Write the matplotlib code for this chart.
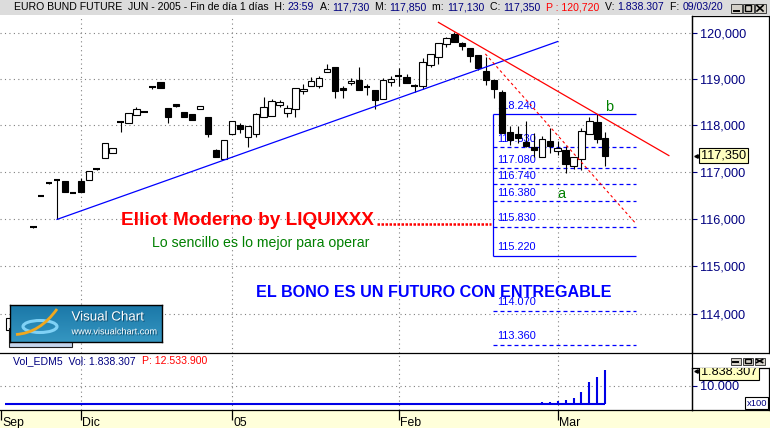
import numpy as np
import matplotlib
matplotlib.use("Agg")
import matplotlib.pyplot as plt
import matplotlib.transforms as mtransforms
import matplotlib.patheffects as pe
from matplotlib.patches import Rectangle, Ellipse, PathPatch
from matplotlib.path import Path
from matplotlib.lines import Line2D
from matplotlib.ticker import NullLocator
from matplotlib.colors import LinearSegmentedColormap

plt.rcParams['font.family'] = ['Liberation Sans', 'DejaVu Sans']

# --- data: EURO BUND FUTURE JUN-2005, daily bars (bar index, 0 = first Nov session)
bar_idx = [-3] + list(range(73))
opens = [113.68, 115.82, 116.49, 116.76, 116.82, 116.81, 116.55, 116.81, 116.82, 117.06,
         117.29, 117.40, 118.07, 118.05, 118.22, 118.29, 118.82, 118.94, 118.37, 118.46,
         118.28, 118.24, 118.35, 118.18, 117.47, 117.27, 117.82, 118.00, 117.74, 117.82,
         118.18, 118.20, 118.43, 118.26, 118.35, 118.74, 118.85, 118.85, 119.15, 119.27,
         118.80, 118.91, 118.98, 118.82, 118.76, 118.56, 118.93, 119.06, 119.04, 118.85,
         118.84, 119.30, 119.48, 119.76, 119.98, 119.78, 119.68, 119.53, 119.17, 118.99,
         118.73, 117.85, 117.81, 117.65, 117.53, 117.33, 117.66, 117.45, 117.47, 117.13,
         117.27, 117.81, 118.07, 117.73]
highs = [113.93, 115.83, 116.50, 116.77, 116.83, 116.81, 116.56, 116.87, 117.01, 117.07,
         117.61, 117.51, 118.08, 118.26, 118.39, 118.30, 118.82, 118.94, 118.37, 118.46,
         118.28, 118.24, 118.41, 118.18, 117.50, 117.68, 118.09, 118.04, 117.98, 118.27,
         118.62, 118.56, 118.55, 118.43, 118.80, 118.89, 119.04, 119.07, 119.33, 119.27,
         118.84, 119.02, 119.27, 118.90, 118.76, 119.02, 119.06, 119.24, 119.11, 118.89,
         119.46, 119.54, 119.78, 119.93, 120.03, 119.82, 119.68, 119.53, 119.49, 118.99,
         118.77, 117.99, 117.99, 118.10, 117.83, 117.77, 117.95, 117.67, 117.56, 117.32,
         117.95, 118.19, 118.24, 117.85]
lows = [113.66, 115.81, 116.48, 116.75, 115.99, 116.58, 116.54, 116.58, 116.82, 117.05,
        117.29, 117.40, 117.86, 118.05, 118.22, 118.28, 118.79, 118.80, 118.04, 118.39,
        118.17, 118.12, 118.35, 117.74, 117.33, 117.27, 117.82, 117.84, 117.53, 117.74,
        118.18, 118.20, 118.39, 118.19, 118.19, 118.68, 118.85, 118.81, 119.15, 118.60,
        118.58, 118.87, 118.77, 118.66, 118.35, 118.56, 118.84, 118.85, 118.91, 118.71,
        118.78, 119.27, 119.34, 119.71, 119.81, 119.64, 119.38, 119.20, 118.88, 118.59,
        117.83, 117.58, 117.61, 117.53, 117.33, 117.33, 117.40, 117.37, 116.97, 117.06,
        117.04, 117.81, 117.61, 117.13]
closes = [113.91, 115.82, 116.49, 116.76, 116.81, 116.58, 116.55, 116.58, 117.01, 117.06,
          117.61, 117.51, 118.07, 118.26, 118.35, 118.29, 118.82, 118.80, 118.17, 118.41,
          118.17, 118.12, 118.41, 117.82, 117.33, 117.68, 118.09, 117.92, 117.98, 118.24,
          118.39, 118.53, 118.50, 118.37, 118.80, 118.79, 118.95, 119.02, 119.22, 118.75,
          118.77, 118.96, 118.77, 118.82, 118.54, 118.98, 119.01, 119.06, 118.91, 118.85,
          119.38, 119.54, 119.78, 119.89, 119.81, 119.72, 119.51, 119.25, 118.98, 118.78,
          117.83, 117.68, 117.72, 117.56, 117.46, 117.71, 117.56, 117.51, 117.16, 117.32,
          117.88, 118.09, 117.71, 117.35]
volume = [0] * 61 + [70000, 0, 70000, 70000, 100000, 100000, 150000, 240000,
                     350000, 680000, 1180000, 1460000, 1838307]

date_idx = [-4, 6, 25, 46, 66]
date_labels = ['Sep', 'Dic', '05', 'Feb', 'Mar']
price_ticks = [114, 115, 116, 117, 118, 119, 120]

fib_levels = [118.24, 117.53, 117.08, 116.74, 116.38, 115.83, 115.22, 114.07, 113.36]
fib_box = [118.24, 115.22]
fib_x = [57.9, 75.8]

trend_up = ([3, 66], [115.99, 119.82])
trend_down = ([51, 80], [120.24, 117.35])
trend_dash = ([56.9, 75.9], [119.55, 115.89])

navy = '#000080'
W, H = 770, 428
X0, DX = 33.2, 7.946   # pixel of bar 0 and pixel step per bar


def fx(px):
    return px / W


def fy(py):
    return 1 - py / H


def xpix(p):
    return (p - X0) / DX


fig = plt.figure(figsize=(7.7, 4.28), dpi=100)
renderer = fig.canvas.get_renderer()

# date band
ax_date = fig.add_axes([0, 0, 1, 18 / H])
ax_date.set_facecolor('#FFFFDA')
ax_date.set_xlim(xpix(0), xpix(W))
ax_date.set_ylim(0, 18)
ax_date.set_xticks([])
ax_date.set_yticks([])
for s in ax_date.spines.values():
    s.set_visible(False)
ax_date.vlines(date_idx, 8, 18, color='black', lw=0.9)
for i, lab in zip(date_idx, date_labels):
    ax_date.text(i + 0.18, 1.6, lab, fontsize=8.8, va='baseline', ha='left')

# right frames
rframe = fig.add_axes([fx(692.3), fy(352.7), fx(768.7 - 692.3), (352.7 - 16) / H])
vframe = fig.add_axes([fx(692.3), fy(410), fx(769 - 692.3), (410 - 368.3) / H])
for fr in (rframe, vframe):
    fr.set_xticks([])
    fr.set_yticks([])
    for s in fr.spines.values():
        s.set_linewidth(0.9)

# main price panel
ax = fig.add_axes([0, fy(352.7), fx(692.3), (352.7 - 16) / H])
ax.set_facecolor('none')
ax.set_yscale('log')
ax.set_ylim(113.20, 120.38)
ax.set_xlim(xpix(0), xpix(692.3))
ax.set_yticks(price_ticks, [f"{v:.3f}".replace('.', ',') for v in price_ticks])
ax.yaxis.set_minor_locator(NullLocator())
ax.yaxis.tick_right()
ax.tick_params(axis='y', direction='out', length=3.8, width=0.8, colors=navy,
               labelsize=9.2, pad=1.5)
ax.set_xticks(date_idx[1:])
ax.tick_params(axis='x', length=0, labelbottom=False)
ax.grid(True, color='#808080', linestyle=(0, (1, 3)), linewidth=0.8)
ax.set_axisbelow(True)
for k in ('top', 'left'):
    ax.spines[k].set_visible(False)
for k in ('bottom', 'right'):
    ax.spines[k].set_linewidth(0.9)

# candles
for i, o, h, l, c in zip(bar_idx, opens, highs, lows, closes):
    ax.vlines(i, l, h, color='black', lw=0.8, zorder=3)
    if abs(c - o) < 0.015:
        ax.hlines(o, i - 0.42, i + 0.42, color='black', lw=1.5, zorder=4)
    else:
        ax.bar(i, abs(c - o), bottom=min(o, c), width=0.8,
               color='white' if c > o else 'black', edgecolor='black',
               linewidth=0.8, zorder=4)

# fibonacci box
ax.vlines(fib_x[0], fib_box[1], fib_box[0], color='#0000FF', lw=0.9, zorder=2)
for lvl in fib_levels:
    if lvl in fib_box:
        ax.hlines(lvl, fib_x[0], fib_x[1], color='#0000FF', lw=0.9, zorder=2)
    else:
        ax.hlines(lvl, fib_x[0], fib_x[1], color='#0000FF', lw=0.9,
                  linestyles=[(0, (3.2, 2.4))], zorder=2)
    ax.annotate(f"{lvl:.3f}", (fib_x[0] + 0.5, lvl), xytext=(0, 6.1),
                textcoords='offset points', va='center', ha='left',
                fontsize=7.9, color='#0000FF', zorder=2)

# trend lines
ax.plot(*trend_up, color='#0000FF', lw=0.9, zorder=5)
ax.plot(*trend_down, color='#FF0000', lw=0.9, zorder=5)
ax.plot(*trend_dash, color='#FF0000', lw=0.8, ls=(0, (2.5, 2.5)), zorder=5)

# last price box
tb = mtransforms.blended_transform_factory(ax.transAxes, ax.transData)
ax.text(701 / 692.3, closes[-1], f"{closes[-1]:.3f}".replace('.', ','), transform=tb,
        fontsize=9.2, va='center', ha='left', clip_on=False, zorder=6,
        bbox=dict(boxstyle='square,pad=0.12', fc='#FFFFC0', ec='black', lw=0.8))
ax.plot([695.5 / 692.3], [closes[-1]], marker='<', ms=2.5, color='black',
        transform=tb, clip_on=False)

# volume panel
ax_vol = fig.add_axes([0, fy(410), fx(692.3), (410 - 352.7) / H])
ax_vol.set_facecolor('none')
ax_vol.set_xlim(xpix(0), xpix(692.3))
ax_vol.set_ylim(-3279, 28033)
ax_vol.set_xticks(date_idx[1:])
ax_vol.tick_params(axis='x', length=0, labelbottom=False)
ax_vol.set_yticks([10000], ['10.000'])
ax_vol.yaxis.tick_right()
ax_vol.tick_params(axis='y', direction='out', length=3.8, width=0.8, colors=navy,
                   labelsize=9.2, pad=1.5)
ax_vol.grid(True, color='#808080', linestyle=(0, (1, 3)), linewidth=0.8)
ax_vol.set_axisbelow(True)
for k in ('top', 'left'):
    ax_vol.spines[k].set_visible(False)
for k in ('bottom', 'right'):
    ax_vol.spines[k].set_linewidth(0.9)
vol_arr = np.array(volume) / 100.0
vi = [i for i, v in zip(bar_idx, vol_arr) if v > 0]
vv = [v for v in vol_arr if v > 0]
ax_vol.vlines(vi, 0, vv, color='#0000E6', lw=1.5)
ax_vol.hlines(0, bar_idx[0] - 0.5, bar_idx[-1], color='#0000E6', lw=1.5)

vframe.set_ylim(-3279, 19508)
vfmt = f"{volume[-1]:,}".replace(',', '.')
tv = mtransforms.blended_transform_factory(vframe.transAxes, vframe.transData)
vframe.text(0.113, vol_arr[-1] - 900, vfmt, transform=tv, fontsize=9.2, va='center',
            ha='left', clip_on=True,
            bbox=dict(boxstyle='square,pad=0.12', fc='#FFFFC0', ec='black', lw=0.8))
vframe.plot([0.045], [vol_arr[-1] - 300], marker='<', ms=2.5, color='black',
            transform=tv, clip_on=False)
vframe.text(0.975, 0.05, 'x100', transform=vframe.transAxes, fontsize=6.8,
            color=navy, ha='right', va='bottom',
            bbox=dict(boxstyle='square,pad=0.15', fc='white', ec='black', lw=0.8))

# header bar
fig.add_artist(Rectangle((0, fy(15)), 1, 15 / H, transform=fig.transFigure,
                         fc='#DCDCDC', ec='none', zorder=1))


def text_w(s, size):
    t = fig.text(0, 0, s, fontsize=size)
    w = t.get_window_extent(renderer).width
    t.remove()
    return w


def draw_pieces(x0, y, pieces, size):
    full = ''
    bar_w = text_w('|', size)
    for txt, col in pieces:
        body = txt.lstrip()
        pre = full + txt[:len(txt) - len(body)]
        off = text_w(pre + '|', size) - bar_w if pre else 0
        fig.text(fx(x0 + off), fy(y), body, color=col, fontsize=size,
                 va='center', ha='left', zorder=3)
        full += txt


def fmt(v):
    return f"{v:.3f}".replace('.', ',')


header = [("EURO BUND FUTURE  JUN - 2005 - Fin de día 1 días  H: ", 'black'),
          ("23:59", navy), ("  A: ", 'black'), (fmt(opens[-1]), navy),
          ("  M: ", 'black'), (fmt(highs[-1]), navy),
          ("  m: ", 'black'), (fmt(lows[-1]), navy),
          ("  C: ", 'black'), (fmt(closes[-1]), navy),
          ("  P : 120,720", '#FF0000'),
          ("  V: ", 'black'), (vfmt, navy),
          ("  F: ", 'black'), ("09/03/20", navy)]
draw_pieces(14, 7.5, header, 7.6)

draw_pieces(13.3, 360.7, [("Vol_EDM5  Vol: " + vfmt, navy),
                          ("  P: 12.533.900", '#FF0000')], 7.6)


def buttons(x0, y0, w, h, step):
    for k in range(3):
        x = x0 + k * step
        fig.add_artist(Rectangle((fx(x), fy(y0 + h)), w / W, h / H,
                                 transform=fig.transFigure, fc='#D4D0C8',
                                 ec='#404040', lw=0.7, zorder=6))
    cx = x0 + w / 2
    fig.add_artist(Line2D([fx(cx - 2.5), fx(cx + 2.5)], [fy(y0 + h - 2.2)] * 2,
                          transform=fig.transFigure, color='black', lw=1.4, zorder=7))
    cx = x0 + step + w / 2
    fig.add_artist(Rectangle((fx(cx - 3), fy(y0 + h - 1.8)), 6 / W, (h - 3.6) / H,
                             transform=fig.transFigure, fc='none', ec='black',
                             lw=1.0, zorder=7))
    cx = x0 + 2 * step + w / 2
    cy = y0 + h / 2
    for s in (1, -1):
        fig.add_artist(Line2D([fx(cx - 3), fx(cx + 3)], [fy(cy - s * (h / 2 - 2)), fy(cy + s * (h / 2 - 2))],
                              transform=fig.transFigure, color='black', lw=1.2, zorder=7))


buttons(730.5, 3.5, 11.0, 9.5, 12.0)
buttons(730.7, 357.5, 9.8, 7.0, 12.0)

# free text
fig.text(fx(121), fy(225), "Elliot Moderno by LIQUIXXX", color='#FF0000',
         fontsize=13.7, fontweight='bold', va='baseline')
fig.add_artist(Line2D([fx(377), fx(490.7)], [fy(223.8)] * 2, transform=fig.transFigure,
                      color='#FF0000', lw=1.8, dashes=(1.0, 0.6),
                      solid_capstyle='butt', dash_capstyle='butt', zorder=3))
fig.text(fx(152), fy(243), "Lo sencillo es lo mejor para operar", color='#008000',
         fontsize=10.2, va='center')
fig.text(fx(255.5), fy(292.7), "EL BONO ES UN FUTURO CON ENTREGABLE", color='#0000FF',
         fontsize=11.6, fontweight='bold', va='center')
fig.text(fx(561), fy(194), 'a', color='#008000', fontsize=10.5, ha='center', va='center')
fig.text(fx(608.7), fy(107.3), 'b', color='#008000', fontsize=10.5, ha='center', va='center')

# Visual Chart logo
fig.add_artist(Rectangle((fx(9.3), fy(347.3)), 62.4 / W, 19.3 / H,
                         transform=fig.transFigure, fc='#C5D5ED', ec='#202020',
                         lw=0.8, zorder=4))
lax = fig.add_axes([fx(10), fy(341.7), 152.3 / W, 36.7 / H], zorder=5)
lax.set_xlim(0, 152.3)
lax.set_ylim(36.7, 0)
cmap = LinearSegmentedColormap.from_list('vc', ['#1b78a8', '#3596c1'])
lax.imshow(np.linspace(0, 1, 40).reshape(-1, 1), cmap=cmap, aspect='auto',
           extent=[0, 152.3, 36.7, 0])
lax.add_patch(Ellipse((30, 21.5), 34, 12, fill=False, ec='#80d2f6', lw=2.2))
swoosh = Path([(6, 29.5), (30, 28), (47, 4)], [Path.MOVETO, Path.CURVE3, Path.CURVE3])
lax.add_patch(PathPatch(swoosh, fc='none', ec='#F2A81E', lw=2.0))
shadow = [pe.withSimplePatchShadow(offset=(0.7, -0.7), shadow_rgbFace='#0a3f5e', alpha=0.8)]
lax.text(61.5, 12.5, 'Visual Chart', color='white', fontsize=9.6, va='center',
         path_effects=shadow)
lax.text(61.5, 26.8, 'www.visualchart.com', color='white', fontsize=6.6, va='center',
         path_effects=shadow)
lax.set_xticks([])
lax.set_yticks([])
for s in lax.spines.values():
    s.set_linewidth(1.0)
    s.set_color('black')

fig.savefig('out.png', dpi=100)
